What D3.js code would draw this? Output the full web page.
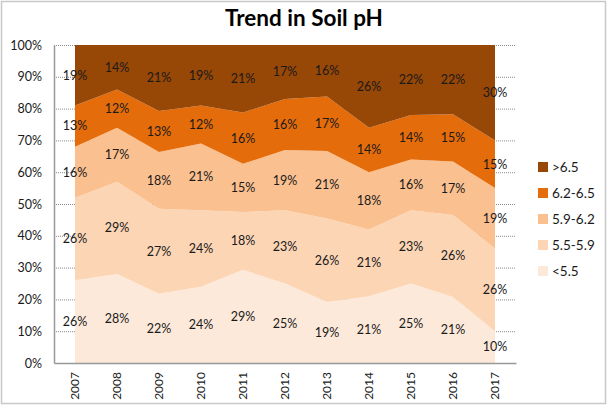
<!DOCTYPE html>
<html>
<head>
<meta charset="utf-8">
<script src="https://cdn.jsdelivr.net/npm/d3@7"></script>
<style>
  body { margin: 0; background: #fff; }
  svg { font-family: Lato, "Open Sans", sans-serif; }
</style>
</head>
<body>
<div id="chart"></div>
<script>
// data
const years = ["2007","2008","2009","2010","2011","2012","2013","2014","2015","2016","2017"];
const seriesNames = ["<5.5", "5.5-5.9", "5.9-6.2", "6.2-6.5", ">6.5"];
const below55 = [26, 28, 22, 24, 29, 25, 19, 21, 25, 21, 10];
const ph55to59 = [26, 29, 27, 24, 18, 23, 26, 21, 23, 26, 26];
const ph59to62 = [16, 17, 18, 21, 15, 19, 21, 18, 16, 17, 19];
const ph62to65 = [13, 12, 13, 12, 16, 16, 17, 14, 14, 15, 15];
const above65 = [19, 14, 21, 19, 21, 17, 16, 26, 22, 22, 30];
const yTicks = [0, 10, 20, 30, 40, 50, 60, 70, 80, 90, 100];
const colors = ["#FDE9D9", "#FCD5B5", "#FAC090", "#E46C0A", "#974706"];

const W = 608, H = 405;
const margin = {top: 45, right: 92, bottom: 42, left: 54};

const table = years.map((y, i) => ({
  year: y,
  "<5.5": below55[i],
  "5.5-5.9": ph55to59[i],
  "5.9-6.2": ph59to62[i],
  "6.2-6.5": ph62to65[i],
  ">6.5": above65[i]
}));

// normalise to 100% like Excel's 100% stacked area
const stack = d3.stack().keys(seriesNames).offset(d3.stackOffsetExpand);
const layers = stack(table);

const svg = d3.select("#chart").append("svg")
  .attr("width", W).attr("height", H);

// outer chart border
svg.append("rect")
  .attr("x", 1.5).attr("y", 1.5)
  .attr("width", W - 4).attr("height", H - 3)
  .attr("fill", "none").attr("stroke", "#c8c8c8").attr("stroke-width", 1.5);

const xScale = d3.scaleBand(years, [margin.left, W - margin.right]);
const xc = d => xScale(d) + xScale.bandwidth() / 2;
const yScale = d3.scaleLinear([0, 1], [H - margin.bottom, margin.top]);

// gridlines
svg.append("g")
  .selectAll("line")
  .data(yTicks.filter(t => t > 0))
  .join("line")
    .attr("x1", margin.left).attr("x2", W - margin.right)
    .attr("y1", t => yScale(t / 100) + 0.5).attr("y2", t => yScale(t / 100) + 0.5)
    .attr("stroke", "#8c8c8c").attr("stroke-dasharray", "1,1");

const area = d3.area()
  .x(d => xc(d.data.year))
  .y0(d => yScale(d[0]))
  .y1(d => yScale(d[1]));

svg.append("g")
  .selectAll("path")
  .data(layers)
  .join("path")
    .attr("d", area)
    .attr("fill", (d, i) => colors[i]);

// value labels
layers.forEach((layer, li) => {
  svg.append("g")
    .selectAll("text")
    .data(layer)
    .join("text")
      .attr("x", d => xc(d.data.year))
      .attr("y", d => yScale((d[0] + d[1]) / 2))
      .attr("dy", "0.35em")
      .attr("text-anchor", "middle")
      .attr("font-size", 12.5)
      .attr("fill", "#1a1a1a")
      .text(d => d.data[seriesNames[li]] + "%");
});

// axes
const yAxis = g => g
  .attr("transform", `translate(${margin.left},0)`)
  .call(d3.axisLeft(yScale).tickValues(yTicks.map(t => t / 100))
    .tickFormat(d3.format(".0%")).tickSize(0).tickPadding(12))
  .call(g => g.select(".domain").attr("stroke", "#999").attr("stroke-width", 1.5))
  .call(g => g.selectAll("text").attr("font-size", 12.5).attr("fill", "#1a1a1a")
    .attr("font-family", "Lato, 'Open Sans', sans-serif"));

const xAxis = g => g
  .attr("transform", `translate(0,${H - margin.bottom})`)
  .call(d3.axisBottom(xScale).tickSize(0).tickSizeOuter(0).tickPadding(0))
  .call(g => g.select(".domain").attr("stroke", "#999").attr("stroke-width", 1.5))
  .call(g => g.selectAll("text")
    .attr("transform", "rotate(-90)")
    .attr("text-anchor", "end")
    .attr("x", -9).attr("y", 0).attr("dy", "0.35em")
    .attr("font-size", 12).attr("fill", "#1a1a1a")
    .attr("font-family", "Lato, 'Open Sans', sans-serif"));

svg.append("g").call(yAxis);
svg.append("g").call(xAxis);

// title
svg.append("text")
  .attr("x", W / 2 + 0).attr("y", 26)
  .attr("text-anchor", "middle")
  .attr("font-size", 22.5).attr("font-weight", 700)
  .attr("fill", "#000")
  .text("Trend in Soil pH");

// legend, top to bottom reversed
const legend = svg.append("g")
  .selectAll("g")
  .data(seriesNames.slice().reverse())
  .join("g")
    .attr("transform", (d, i) => `translate(538,${167 + i * 26})`);

legend.append("rect")
  .attr("x", 0).attr("y", -5)
  .attr("width", 10).attr("height", 10)
  .attr("fill", d => colors[seriesNames.indexOf(d)]);

legend.append("text")
  .attr("x", 14).attr("dy", "0.35em")
  .attr("font-size", 13.5).attr("fill", "#1a1a1a")
  .text(d => d);
</script>
</body>
</html>
